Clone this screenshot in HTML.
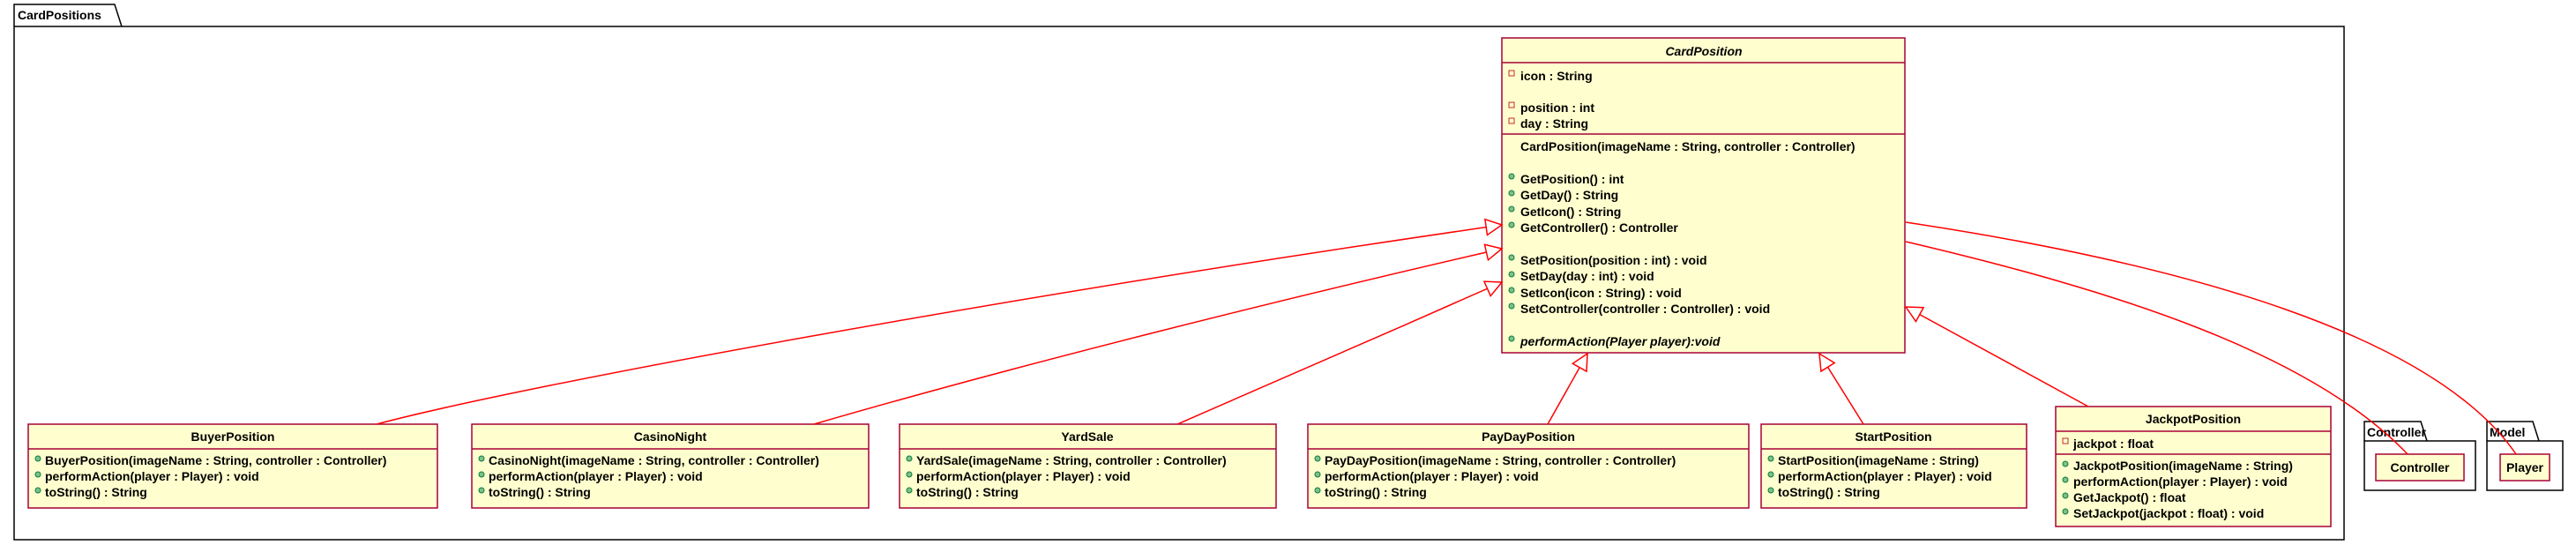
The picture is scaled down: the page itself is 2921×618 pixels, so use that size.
<!DOCTYPE html>
<html><head><meta charset="utf-8"><style>
html,body{margin:0;padding:0;background:#fff;}
svg{display:block;}
text{font-family:"Liberation Sans",sans-serif;font-size:14px;font-weight:bold;fill:#000;}
.b{fill:#FEFECE;stroke:#A80036;stroke-width:1.5;}
.s{stroke:#A80036;stroke-width:1.5;}
.pk{fill:none;stroke:#000;stroke-width:1.5;}
.c{stroke:#FF0000;stroke-width:1.5;fill:none;}
.g{fill:#84BE84;stroke:#038048;stroke-width:1;}
.p{fill:none;stroke:#C82930;stroke-width:1;}
</style></head><body>
<svg width="2921" height="618" viewBox="0 0 2921 618" xmlns="http://www.w3.org/2000/svg">
<defs>
<marker id="ah" markerUnits="userSpaceOnUse" markerWidth="30" markerHeight="30" refX="20" refY="10" orient="auto" viewBox="0 0 30 30">
<path d="M20,10 L2,1 L2,19 Z" fill="#fff" stroke="#FF0000" stroke-width="1.5"/>
</marker>
</defs>
<!-- package CardPositions -->
<path class="pk" d="M16,30 L16,5 L130,5 L138,30"/>
<rect class="pk" x="16" y="30" width="2642" height="582"/>
<text x="20" y="22">CardPositions</text>

<!-- Controller package -->
<path class="pk" d="M2681,500 L2681,478 L2745,478 L2752,500"/>
<rect class="pk" x="2681" y="500" width="126" height="56"/>
<text x="2684" y="495">Controller</text>
<rect class="b" x="2694" y="515" width="100" height="30"/>
<text x="2744" y="535" text-anchor="middle">Controller</text>

<!-- Model package -->
<path class="pk" d="M2820,500 L2820,478 L2872,478 L2879,500"/>
<rect class="pk" x="2820" y="500" width="86" height="56"/>
<text x="2823" y="495">Model</text>
<rect class="b" x="2835" y="515" width="56" height="30"/>
<text x="2863" y="535" text-anchor="middle">Player</text>

<!-- CardPosition -->
<rect class="b" x="1703" y="43" width="457" height="357"/>
<line class="s" x1="1703" y1="71" x2="2160" y2="71"/>
<line class="s" x1="1703" y1="152" x2="2160" y2="152"/>
<text x="1932" y="63" text-anchor="middle" font-style="italic">CardPosition</text>
<rect class="p" x="1711" y="80" width="6" height="6"/><text x="1724" y="91">icon : String</text>
<rect class="p" x="1711" y="116" width="6" height="6"/><text x="1724" y="127">position : int</text>
<rect class="p" x="1711" y="134" width="6" height="6"/><text x="1724" y="145">day : String</text>
<text x="1724" y="171">CardPosition(imageName : String, controller : Controller)</text>
<circle class="g" cx="1714" cy="200" r="3"/><text x="1724" y="208">GetPosition() : int</text>
<circle class="g" cx="1714" cy="219" r="3"/><text x="1724" y="226">GetDay() : String</text>
<circle class="g" cx="1714" cy="237" r="3"/><text x="1724" y="245">GetIcon() : String</text>
<circle class="g" cx="1714" cy="255" r="3"/><text x="1724" y="263">GetController() : Controller</text>
<circle class="g" cx="1714" cy="292" r="3"/><text x="1724" y="300">SetPosition(position : int) : void</text>
<circle class="g" cx="1714" cy="311" r="3"/><text x="1724" y="318">SetDay(day : int) : void</text>
<circle class="g" cx="1714" cy="329" r="3"/><text x="1724" y="337">SetIcon(icon : String) : void</text>
<circle class="g" cx="1714" cy="347" r="3"/><text x="1724" y="355">SetController(controller : Controller) : void</text>
<circle class="g" cx="1714" cy="384" r="3"/><text x="1724" y="392" font-style="italic">performAction(Player player):void</text>

<!-- Bottom classes -->
<g>
<rect class="b" x="32" y="481" width="464" height="95"/><line class="s" x1="32" y1="509" x2="496" y2="509"/>
<text x="264" y="500" text-anchor="middle">BuyerPosition</text>
<circle class="g" cx="43" cy="520" r="3"/><text x="51" y="527">BuyerPosition(imageName : String, controller : Controller)</text>
<circle class="g" cx="43" cy="538" r="3"/><text x="51" y="545">performAction(player : Player) : void</text>
<circle class="g" cx="43" cy="556" r="3"/><text x="51" y="563">toString() : String</text>
</g>
<g>
<rect class="b" x="535" y="481" width="450" height="95"/><line class="s" x1="535" y1="509" x2="985" y2="509"/>
<text x="760" y="500" text-anchor="middle">CasinoNight</text>
<circle class="g" cx="546" cy="520" r="3"/><text x="554" y="527">CasinoNight(imageName : String, controller : Controller)</text>
<circle class="g" cx="546" cy="538" r="3"/><text x="554" y="545">performAction(player : Player) : void</text>
<circle class="g" cx="546" cy="556" r="3"/><text x="554" y="563">toString() : String</text>
</g>
<g>
<rect class="b" x="1020" y="481" width="427" height="95"/><line class="s" x1="1020" y1="509" x2="1447" y2="509"/>
<text x="1233" y="500" text-anchor="middle">YardSale</text>
<circle class="g" cx="1031" cy="520" r="3"/><text x="1039" y="527">YardSale(imageName : String, controller : Controller)</text>
<circle class="g" cx="1031" cy="538" r="3"/><text x="1039" y="545">performAction(player : Player) : void</text>
<circle class="g" cx="1031" cy="556" r="3"/><text x="1039" y="563">toString() : String</text>
</g>
<g>
<rect class="b" x="1483" y="481" width="500" height="95"/><line class="s" x1="1483" y1="509" x2="1983" y2="509"/>
<text x="1733" y="500" text-anchor="middle">PayDayPosition</text>
<circle class="g" cx="1494" cy="520" r="3"/><text x="1502" y="527">PayDayPosition(imageName : String, controller : Controller)</text>
<circle class="g" cx="1494" cy="538" r="3"/><text x="1502" y="545">performAction(player : Player) : void</text>
<circle class="g" cx="1494" cy="556" r="3"/><text x="1502" y="563">toString() : String</text>
</g>
<g>
<rect class="b" x="1997" y="481" width="301" height="95"/><line class="s" x1="1997" y1="509" x2="2298" y2="509"/>
<text x="2147" y="500" text-anchor="middle">StartPosition</text>
<circle class="g" cx="2008" cy="520" r="3"/><text x="2016" y="527">StartPosition(imageName : String)</text>
<circle class="g" cx="2008" cy="538" r="3"/><text x="2016" y="545">performAction(player : Player) : void</text>
<circle class="g" cx="2008" cy="556" r="3"/><text x="2016" y="563">toString() : String</text>
</g>
<g>
<rect class="b" x="2331" y="461" width="312" height="136"/>
<line class="s" x1="2331" y1="489" x2="2643" y2="489"/><line class="s" x1="2331" y1="515" x2="2643" y2="515"/>
<text x="2487" y="480" text-anchor="middle">JackpotPosition</text>
<rect class="p" x="2339" y="497" width="6" height="6"/><text x="2351" y="508">jackpot : float</text>
<circle class="g" cx="2342" cy="526" r="3"/><text x="2351" y="533">JackpotPosition(imageName : String)</text>
<circle class="g" cx="2342" cy="544" r="3"/><text x="2351" y="551">performAction(player : Player) : void</text>
<circle class="g" cx="2342" cy="562" r="3"/><text x="2351" y="569">GetJackpot() : float</text>
<circle class="g" cx="2342" cy="580" r="3"/><text x="2351" y="587">SetJackpot(jackpot : float) : void</text>
</g>

<!-- connectors -->
<path class="c" marker-end="url(#ah)" d="M427,481 C600,435 1150,335 1703,255"/>
<path class="c" marker-end="url(#ah)" d="M923,481 C1150,415 1450,340 1703,282"/>
<path class="c" marker-end="url(#ah)" d="M1335,481 C1450,430 1580,375 1703,320"/>
<path class="c" marker-end="url(#ah)" d="M1755,481 L1800,401"/>
<path class="c" marker-end="url(#ah)" d="M2113,481 L2063,401"/>
<path class="c" marker-end="url(#ah)" d="M2368,461 L2161,348"/>
<path class="c" d="M2161,274 C2400,330 2620,400 2730,515"/>
<path class="c" d="M2161,252 C2480,300 2760,380 2853,515"/>
</svg>
</body></html>
